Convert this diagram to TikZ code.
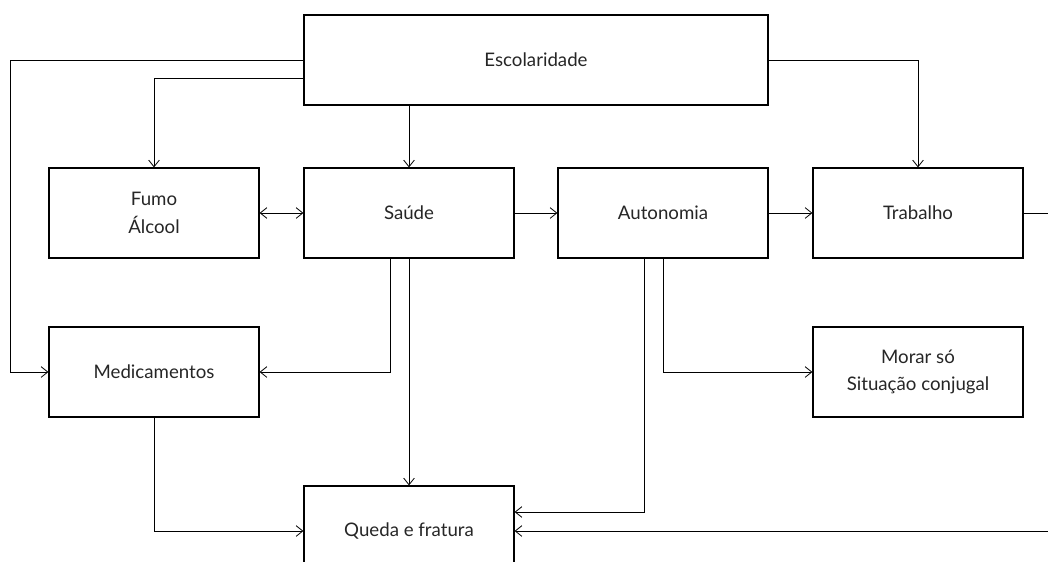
\documentclass[tikz,border=0pt]{standalone}
\usepackage{fontspec}
\setmainfont{Lato}
\usetikzlibrary{arrows.meta}
\usetikzlibrary{positioning}

\begin{document}
\begin{tikzpicture}[x=0.75pt,y=-0.75pt,line width=0.6pt,
    >={Straight Barb[length=5pt,width=8pt]},
    main node/.style={rectangle,draw,line width=0.9pt,minimum width=157.5pt,minimum height=67.5pt,align=center,font=\fontsize{14}{20.5}\selectfont,text=black!85},
    wide node/.style={main node,minimum width=348pt}]
   \path[use as bounding box,clip] (0,0) rectangle (1048,561);
   % boxes
   \node[wide node] (esc) at (536,60) {Escolaridade};
   \node[main node] (fumo) at (154,213) {Fumo\\Álcool};
   \node[main node] (saude) at (409,213) {Saúde};
   \node[main node] (auton) at (663,213) {Autonomia};
   \node[main node] (trab) at (918,213) {Trabalho};
   \node[main node] (medic) at (154,372) {Medicamentos};
   \node[main node] (morar) at (918,372) {Morar só\\Situação conjugal};
   \node[main node] (queda) at (409,531) {Queda e fratura};
   % from Escolaridade
   \draw[->] (esc.west) -| ([xshift=-28.5pt]medic.west) -- (medic.west);
   \draw[->] ([yshift=-13.5pt]esc.west) -| (fumo.north);
   \draw[->] (esc.south -| saude.north) -- (saude.north);
   \draw[->] (esc.east) -| (trab.north);
   % second row
   \path[<->] (fumo) edge (saude);
   \path[->] (saude) edge (auton);
   \path[->] (auton) edge (trab);
   \draw[->] (trab.east) -- ++(40,0) |- (queda.east);
   % down to Medicamentos, Morar, Queda
   \draw[->] ([xshift=-14.25pt]saude.south) |- (medic.east);
   \path[->] (saude) edge (queda);
   \draw[->] (medic.south) |- (queda.west);
   \draw[->] ([xshift=-14.25pt]auton.south) |- ([yshift=14.25pt]queda.east);
   \draw[->] (auton.south) |- (morar.west);
\end{tikzpicture}
\end{document}
